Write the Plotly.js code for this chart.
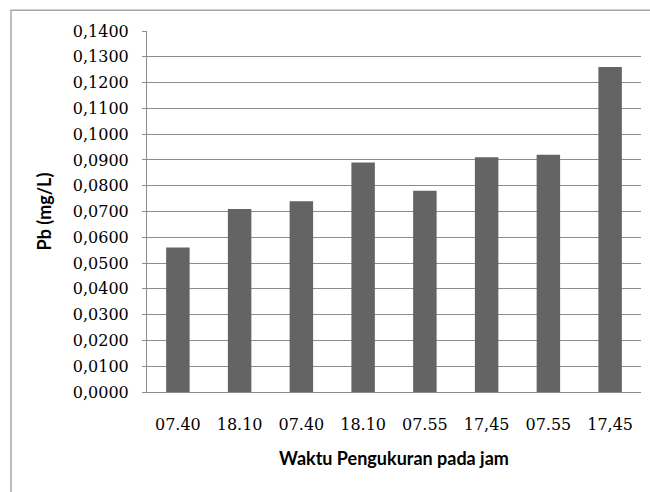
<!DOCTYPE html>
<html>
<head>
<meta charset="utf-8">
<script src="https://cdn.plot.ly/plotly-3.0.1.min.js"></script>
<style>
  html, body { margin: 0; padding: 0; background: #fff; }
  #chart { width: 650px; height: 492px; }
</style>
</head>
<body>
<div id="chart"></div>
<script>
// Data
const categories = ["07.40", "18.10", "07.40", "18.10", "07.55", "17,45", "07.55", "17,45"];
const pbValues = [0.056, 0.071, 0.074, 0.089, 0.078, 0.091, 0.092, 0.126];
const yTickVals = [0, 0.01, 0.02, 0.03, 0.04, 0.05, 0.06, 0.07, 0.08, 0.09, 0.10, 0.11, 0.12, 0.13, 0.14];
const yTickText = ["0,0000", "0,0100", "0,0200", "0,0300", "0,0400", "0,0500", "0,0600", "0,0700",
                   "0,0800", "0,0900", "0,1000", "0,1100", "0,1200", "0,1300", "0,1400"];

const positions = categories.map((c, i) => i);

const trace = {
  type: "bar",
  x: positions,
  y: pbValues,
  marker: { color: "#646464", line: { width: 0 } },
  hoverinfo: "y"
};

const gridGrey = "#8c8c8c";

const layout = {
  width: 650,
  height: 492,
  margin: { l: 147, r: 9, t: 31, b: 100 },
  paper_bgcolor: "#ffffff",
  plot_bgcolor: "#ffffff",
  showlegend: false,
  bargap: 0.62,
  font: { family: "DejaVu Serif", size: 16, color: "#000000" },
  xaxis: {
    range: [-0.5, categories.length - 0.5],
    tickmode: "array",
    tickvals: positions,
    ticktext: categories,
    showgrid: false,
    zeroline: false,
    showline: true,
    linecolor: gridGrey,
    linewidth: 1,
    ticks: "",
    ticklabelstandoff: 18,
    automargin: true,
    tickfont: { family: "DejaVu Serif", size: 16, color: "#000000" },
    title: {
      text: "Waktu Pengukuran pada jam",
      standoff: 19,
      font: { family: "Lato", size: 18, weight: "bold", color: "#000000" }
    },
    fixedrange: true
  },
  yaxis: {
    range: [0, 0.14],
    tickmode: "array",
    tickvals: yTickVals,
    ticktext: yTickText,
    showgrid: true,
    gridcolor: gridGrey,
    gridwidth: 1,
    zeroline: false,
    showline: true,
    linecolor: gridGrey,
    linewidth: 1,
    ticks: "outside",
    ticklen: 4,
    tickcolor: gridGrey,
    ticklabelstandoff: 10,
    automargin: true,
    tickfont: { family: "DejaVu Serif", size: 16, color: "#000000" },
    title: {
      text: "Pb (mg/L)",
      standoff: 16,
      font: { family: "Lato", size: 18, weight: "bold", color: "#000000" }
    },
    fixedrange: true
  },
  shapes: [{
    type: "rect",
    xref: "paper", yref: "paper",
    x0: -0.2753, x1: 1.2,
    y0: -0.5, y1: 1.0573,
    line: { color: "#a6a6a6", width: 1.5 },
    fillcolor: "rgba(0,0,0,0)",
    layer: "below"
  }]
};

Plotly.newPlot("chart", [trace], layout, { displayModeBar: false, staticPlot: true });
</script>
</body>
</html>
